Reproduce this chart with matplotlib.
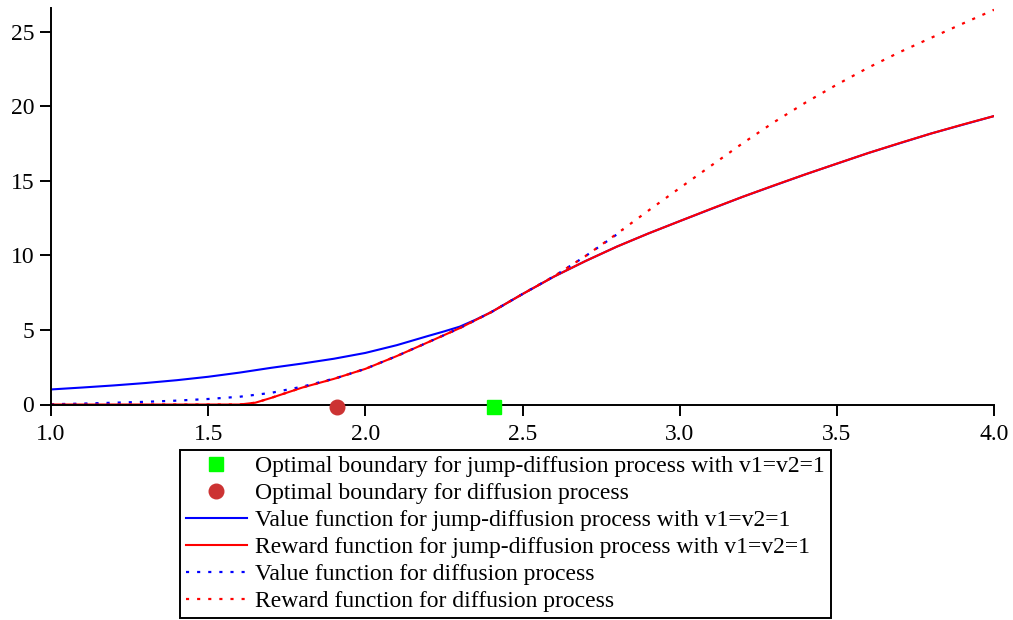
import matplotlib
matplotlib.use("Agg")
import matplotlib.pyplot as plt

plt.rcParams['font.family'] = ['Liberation Serif', 'DejaVu Serif']

# Valores
# Funcion de recompensa (salto-difusion)
x_rew_jd = [1.0, 1.6, 1.65, 1.7, 1.8, 1.9, 2.0, 2.1, 2.2, 2.3, 2.4, 2.5, 2.6,
            2.7, 2.8, 2.9, 3.0, 3.1, 3.2, 3.3, 3.4, 3.5, 3.6, 3.7, 3.8, 3.9, 4.0]
y_rew_jd = [0.0, 0.0, 0.12, 0.44, 1.14, 1.72, 2.39, 3.25, 4.18, 5.12, 6.19, 7.41, 8.58,
            9.62, 10.59, 11.47, 12.3, 13.13, 13.93, 14.70, 15.44, 16.16, 16.87, 17.54,
            18.18, 18.78, 19.35]

# Funcion de valor (salto-difusion)
x_val_jd = [1.0, 1.1, 1.2, 1.3, 1.4, 1.5, 1.6, 1.7, 1.8, 1.9, 2.0, 2.1, 2.2, 2.25,
            2.3, 2.35, 2.4, 2.5, 2.6, 2.7, 2.8, 2.9, 3.0, 3.2, 3.4, 3.6, 3.8, 4.0]
y_val_jd = [1.01, 1.14, 1.28, 1.44, 1.63, 1.86, 2.14, 2.46, 2.75, 3.07, 3.46, 3.98, 4.6,
            4.9, 5.22, 5.68, 6.19, 7.41, 8.58, 9.62, 10.59, 11.47, 12.3, 13.93, 15.44,
            16.87, 18.18, 19.35]

# Funcion de valor (difusion)
x_val_d = [1.0, 1.1, 1.2, 1.3, 1.4, 1.5, 1.6, 1.7, 1.8, 1.91, 2.0, 2.1, 2.2, 2.3,
           2.4, 2.5, 2.6, 2.7, 2.82]
y_val_d = [0.02, 0.06, 0.12, 0.18, 0.26, 0.37, 0.52, 0.78, 1.2, 1.79, 2.39, 3.25, 4.18, 5.12,
           6.19, 7.41, 8.6, 9.95, 11.7]

# Funcion de recompensa (difusion)
x_rew_d = [1.0, 1.6, 1.65, 1.7, 1.8, 1.9, 2.0, 2.1, 2.2, 2.3, 2.4, 2.5, 2.6,
           2.7, 2.8, 2.9, 3.0, 3.1, 3.2, 3.3, 3.4, 3.5, 3.6, 3.7, 3.8, 3.9, 4.0]
y_rew_d = [0.0, 0.0, 0.12, 0.44, 1.14, 1.72, 2.39, 3.25, 4.18, 5.12, 6.19, 7.41, 8.6,
           9.95, 11.45, 13.0, 14.52, 16.02, 17.52, 18.94, 20.25, 21.46, 22.6, 23.64,
           24.6, 25.55, 26.48]

# Fronteras optimas
b_jd = 2.41
b_d = 1.91

fig = plt.figure(figsize=(10.13, 6.2), dpi=100)
ax = fig.add_axes([51/1013, 1 - 404.5/620, (994 - 51)/1013, (404.5 - 8)/620])

ax.plot([b_jd], [-0.15], 's', color='#00ff00', ms=10.5, clip_on=False, zorder=5,
        label='Optimal boundary for jump-diffusion process with v1=v2=1')
ax.plot([b_d], [-0.15], 'o', color='#cc3333', ms=10.5, clip_on=False, zorder=5,
        label='Optimal boundary for diffusion process')
ax.plot(x_val_jd, y_val_jd, '-', color='blue', lw=1.5,
        label='Value function for jump-diffusion process with v1=v2=1')
ax.plot(x_rew_jd, y_rew_jd, '-', color='red', lw=1.5,
        label='Reward function for jump-diffusion process with v1=v2=1')
ax.plot(x_val_d, y_val_d, color='blue', lw=1.6, dashes=(1.4, 3.6),
        label='Value function for diffusion process')
ax.plot(x_rew_d, y_rew_d, color='red', lw=1.6, dashes=(1.4, 3.6),
        label='Reward function for diffusion process')

ax.set_xlim(1.0, 4.0)
ax.set_ylim(0, 26.6)
ax.set_xticks([1.0, 1.5, 2.0, 2.5, 3.0, 3.5, 4.0])
ax.set_xticklabels(['1.0', '1.5', '2.0', '2.5', '3.0', '3.5', '4.0'])
ax.set_yticks([0, 5, 10, 15, 20, 25])

ax.spines['top'].set_visible(False)
ax.spines['right'].set_visible(False)
ax.spines['left'].set_linewidth(1.4)
ax.spines['bottom'].set_linewidth(1.4)
ax.tick_params(direction='out', length=8, width=1.4, labelsize=17, pad=4)
ax.tick_params(axis='x', pad=6)

leg = fig.legend(loc='upper left', bbox_to_anchor=(180/1013, 1 - 450/620),
                 bbox_transform=fig.transFigure, borderaxespad=0,
                 fontsize=17, frameon=True, fancybox=False, framealpha=1,
                 edgecolor='black', handlelength=2.6, handletextpad=0.35,
                 labelspacing=0.23, borderpad=0.24)
leg.get_frame().set_linewidth(1.4)

fig.savefig('out.png', dpi=100)
